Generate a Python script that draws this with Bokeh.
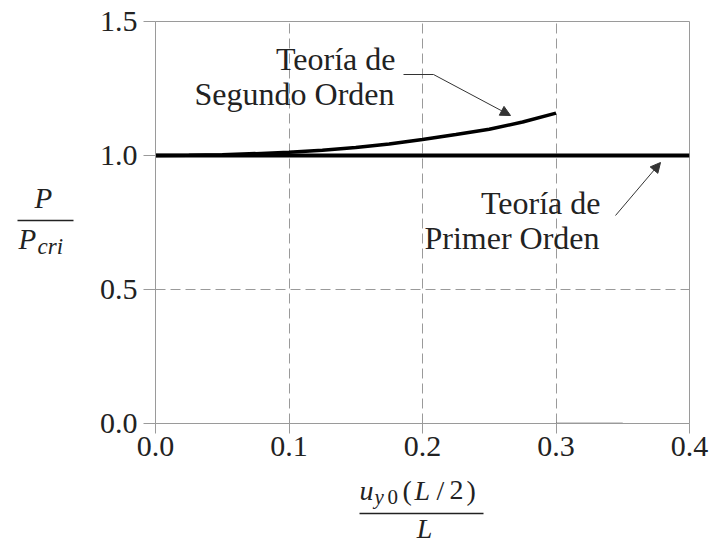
from bokeh.plotting import figure
from bokeh.layouts import row, column
from bokeh.models import (Range1d, FixedTicker, NumeralTickFormatter, Label, Arrow,
                          NormalHead)
from bokeh.core.properties import value
from bokeh.embed import file_html
from bokeh.resources import INLINE

# ---- data ----
x_ticks = [0.0, 0.1, 0.2, 0.3, 0.4]
y_ticks = [0.0, 0.5, 1.0, 1.5]

first_x = [0.0, 0.4]
first_y = [1.0, 1.0]

second_x = [0.0, 0.025, 0.05, 0.075, 0.1, 0.125, 0.15, 0.175, 0.2, 0.225, 0.25, 0.275, 0.3]
second_y = [1.0, 1.001, 1.003, 1.007, 1.012, 1.02, 1.03, 1.043, 1.06, 1.078, 1.098, 1.125, 1.158]

stray_x = [0.3, 0.35]
stray_y = [0.0, 0.0]

label_second = ["Teoría de", "Segundo Orden"]
label_first = ["Teoría de", "Primer Orden"]

# ---- layout (page pixels) ----
W, H = 716, 545
LW = 80            # width of the y-label strip
FL, FR, FT, FB = 155, 689, 21, 423
MAIN_H = 471       # bottom of main figure
FONT = "Liberation Serif"
GRID = "#9a9a9a"
INK = "#222222"
SHIFT = 0.33       # baseline correction, in em

def dx(px):
    return (px - FL) / (FR - FL) * 0.4
def dy(py):
    return (FB - py) / (FB - FT) * 1.5

p = figure(frame_width=FR - FL, frame_height=FB - FT,
           x_range=Range1d(0, 0.4), y_range=Range1d(0, 1.5),
           output_backend="svg", toolbar_location=None)
p.min_border_left = FL - LW
p.min_border_top = FT
p.min_border_right = W - FR
p.min_border_bottom = MAIN_H - FB
p.background_fill_color = "white"
p.border_fill_color = "white"
p.outline_line_color = GRID
p.outline_line_width = 1

for ax, ticks in ((p.xaxis, x_ticks), (p.yaxis, y_ticks)):
    ax.ticker = FixedTicker(ticks=ticks)
    ax.formatter = NumeralTickFormatter(format="0.0")
    ax.minor_tick_line_color = None
    ax.major_tick_in = 0
    ax.major_tick_line_color = GRID
    ax.axis_line_color = GRID
    ax.major_label_text_font = FONT
    ax.major_label_text_font_size = "30px"
    ax.major_label_text_color = INK
    ax.axis_label = None
p.xaxis.major_tick_out = 10
p.yaxis.major_tick_out = 12
p.xaxis.major_label_standoff = 3
p.yaxis.major_label_standoff = 6

p.xgrid.ticker = FixedTicker(ticks=x_ticks)
p.ygrid.ticker = FixedTicker(ticks=y_ticks)
for g in (p.xgrid, p.ygrid):
    g.grid_line_color = GRID
    g.grid_line_dash = "10 5"
    g.grid_line_width = 1

# ---- series ----
p.line(stray_x, stray_y, line_color="#444444", line_width=1.5)
p.line(first_x, first_y, line_color="black", line_width=4)
p.line(second_x, second_y, line_color="black", line_width=3.5)

# ---- annotations inside the frame ----
def lab(text, px, py, size=32, align="left", style="normal"):
    p.add_layout(Label(x=dx(px), y=dy(py - SHIFT * size), text=text, text_font=FONT,
                       text_font_size=f"{size}px", text_align=align,
                       text_baseline="alphabetic", text_font_style=style,
                       text_color=INK))

lab(label_second[0], 395, 69, align="right")
lab(label_second[1], 394, 104, align="right")
lab(label_first[0], 600, 213, align="right")
lab(label_first[1], 599, 248, align="right")

def seg(x0, y0, x1, y1, head=False, width=1, color="#333333"):
    end = NormalHead(size=10, fill_color=color, line_color=color) if head else None
    p.add_layout(Arrow(x_start=dx(x0), y_start=dy(y0), x_end=dx(x1), y_end=dy(y1),
                       end=end, line_color=color, line_width=width))

seg(403, 74, 433, 74)
seg(433, 74, 510, 115, head=True)
seg(615, 215, 660, 162, head=True)

# ---- helper figures for the fraction-style axis titles ----
def strip(w, h, x0, x1, y0, y1, bl=0, br=0):
    f = figure(width=w, height=h, x_range=Range1d(x0, x1), y_range=Range1d(y1, y0),
               output_backend="svg", toolbar_location=None,
               x_axis_location=None, y_axis_location=None)
    f.title_location = None
    f.min_border = 0
    f.min_border_left = bl
    f.min_border_right = br
    f.min_border_top = 0
    f.min_border_bottom = 0
    f.outline_line_color = None
    f.xgrid.visible = False
    f.ygrid.visible = False
    f.background_fill_color = "white"
    f.border_fill_color = "white"
    return f

def txt(f, t, x, y, size=29, align="left", style="normal"):
    f.text(x=[x], y=[y - SHIFT * size], text=[t], text_font=value(FONT),
           text_font_size=value(f"{size}px"),
           text_align=align, text_baseline="alphabetic", text_font_style=style,
           text_color=INK)

# y title: P / P_cri
left = strip(LW, H, 0, LW, 0, H)
txt(left, "P", 34, 207, style="italic")
left.line([17, 73], [220, 220], line_color=INK, line_width=1.5)
txt(left, "P", 18, 248, style="italic")
txt(left, "cri", 37, 254, size=23, style="italic")

# x title: u_y0(L/2) / L   (frame of this strip spans page x FL..FR)
bottom = strip(W - LW, H - MAIN_H, FL, FR, MAIN_H, H, bl=FL - LW, br=W - FR)
txt(bottom, "u", 359, 499, size=28, style="italic")
txt(bottom, "y", 374, 503, size=21, style="italic")
txt(bottom, "0", 387, 503, size=21)
txt(bottom, "(", 402, 499, size=28)
txt(bottom, "L", 414, 499, size=28, style="italic")
txt(bottom, "/", 436, 499, size=28)
txt(bottom, "2", 449, 499, size=28)
txt(bottom, ")", 466, 499, size=28)
bottom.line([359, 483], [513, 513], line_color=INK, line_width=1.5)
txt(bottom, "L", 424, 537, size=28, align="center", style="italic")

layout = row(left, column(p, bottom, spacing=0), spacing=0)
open("out.html", "w").write(file_html(layout, INLINE))
